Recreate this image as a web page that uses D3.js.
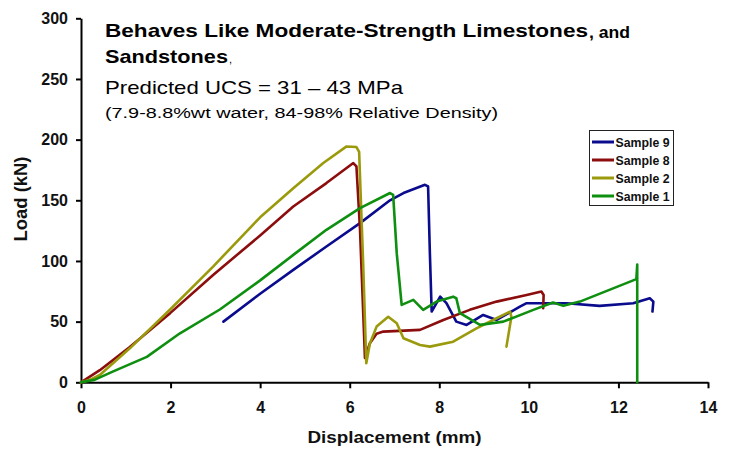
<!DOCTYPE html>
<html>
<head>
<meta charset="utf-8">
<script src="https://cdn.jsdelivr.net/npm/d3@7"></script>
<style>
  html, body { margin: 0; padding: 0; background: #fff; }
  svg { display: block; font-family: "Liberation Sans", Arial, sans-serif; }
</style>
</head>
<body>
<svg id="chart" width="732" height="450"></svg>
<script>
// ---------- data (displacement mm, load kN) ----------
const xTicks = [0, 2, 4, 6, 8, 10, 12, 14];
const yTicks = [0, 50, 100, 150, 200, 250, 300];
const seriesNames = ["Sample 9", "Sample 8", "Sample 2", "Sample 1"];
const seriesColors = ["#0b0b8e", "#8c0d0d", "#9a9a0c", "#0f8f10"];

const sample9 = [[3.18,50],[4.0,73],[4.74,92.7],[5.48,111.9],[6.23,131.2],[6.9,150],[7.2,156],[7.68,162.8],
  [7.75,161.4],[7.79,106.4],[7.83,58.3],[8.02,70.6],[8.16,65.2],[8.38,50],[8.61,47.3],[8.98,55.5],[9.28,51.4],
  [9.8,62.4],[9.95,65.2],[10.84,65.2],[11.58,63],[12.33,65.2],[12.7,69.3],[12.78,66.5],[12.76,58.3]];

const sample8 = [[0,0],[0.42,10],[1.09,29],[1.99,57],[2.95,88.5],[4.0,121],[4.74,144.9],[5.48,164.2],
  [6.08,180.7],[6.15,177.9],[6.23,125.7],[6.34,20],[6.45,32.2],[6.6,40],[6.75,41.8],[7.57,43.2],[8.09,51.4],
  [8.68,59.7],[9.28,66.5],[9.95,72],[10.28,74.8],[10.33,72],[10.32,61]];

const sample2 = [[0,0],[0.2,2],[0.42,6],[1.09,28],[1.99,60],[2.95,95.4],[4.0,136],[4.74,160],[5.41,180.7],
  [5.93,194.4],[6.15,193.9],[6.21,190],[6.3,98],[6.37,15.7],[6.45,32],[6.6,45.9],[6.86,54],[7.05,48.7],
  [7.2,36.3],[7.57,30.8],[7.79,29.4],[8.31,33.5],[8.83,44.5],[9.28,52.8],[9.58,58.3],[9.61,54],[9.5,29.4]];

const sample1 = [[0,0],[0.3,2],[0.72,9],[1.47,21],[2.21,40.4],[3.1,60],[4.0,84],[4.74,105],[5.48,125.7],
  [6.23,143.6],[6.9,156],[6.97,154.5],[7.05,106.4],[7.16,63.8],[7.42,67.9],[7.64,59.7],[7.94,66.5],[8.31,70.6],
  [8.38,69.3],[8.46,57],[8.91,47.3],[9.43,50],[10.1,59.7],[10.54,65.7],[10.77,63],[11.14,66.5],[12.4,85],
  [12.42,97],[12.42,0]];

const seriesData = [sample9, sample8, sample2, sample1];

// ---------- layout ----------
const svg = d3.select("#chart");
const x = d3.scaleLinear().domain([0, 14]).range([81, 708]);
const y = d3.scaleLinear().domain([0, 300]).range([382.3, 18.3]);

// axes
const xAxis = svg.append("g").attr("transform", `translate(0,${y(0)})`)
  .call(d3.axisBottom(x).tickValues(xTicks).tickFormat(d3.format("d")).tickSize(6).tickSizeOuter(0).tickPadding(13));
const yAxis = svg.append("g").attr("transform", `translate(${x(0)},0)`)
  .call(d3.axisLeft(y).tickValues(yTicks).tickFormat(d3.format("d")).tickSize(5).tickSizeOuter(0).tickPadding(8));
[xAxis, yAxis].forEach(g => {
  g.select(".domain").attr("stroke", "#000").attr("stroke-width", 2);
  g.selectAll(".tick line").attr("stroke", "#000").attr("stroke-width", 2);
  g.selectAll(".tick text").attr("fill", "#111").attr("font-size", 16).attr("font-weight", "bold")
    .attr("font-family", "'Liberation Sans', Arial, sans-serif");
});

// axis titles
svg.append("text").attr("x", 394.5).attr("y", 443).attr("text-anchor", "middle")
  .attr("font-size", 17).attr("font-weight", "bold").attr("fill", "#111")
  .attr("textLength", 174).attr("lengthAdjust", "spacingAndGlyphs")
  .text("Displacement (mm)");
svg.append("text").attr("transform", "translate(27,199) rotate(-90)").attr("text-anchor", "middle")
  .attr("font-size", 17.5).attr("font-weight", "bold").attr("fill", "#111")
  .attr("textLength", 85).attr("lengthAdjust", "spacingAndGlyphs")
  .text("Load (kN)");

// series
const line = d3.line().x(d => x(d[0])).y(d => y(d[1]));
seriesData.forEach((data, i) => {
  svg.append("path").datum(data).attr("d", line)
    .attr("fill", "none").attr("stroke", seriesColors[i]).attr("stroke-width", 2.6)
    .attr("stroke-linejoin", "round").attr("stroke-linecap", "round");
});

// annotation text
const ann = svg.append("g").attr("fill", "#000");
ann.append("text").attr("x", 105).attr("y", 37).attr("font-size", 19).attr("font-weight", "bold")
  .attr("textLength", 483).attr("lengthAdjust", "spacingAndGlyphs")
  .text("Behaves Like Moderate-Strength Limestones");
ann.append("text").attr("x", 589).attr("y", 38).attr("font-size", 16).attr("font-weight", "bold")
  .attr("textLength", 41).attr("lengthAdjust", "spacingAndGlyphs")
  .text(", and");
ann.append("text").attr("x", 105).attr("y", 63).attr("font-size", 19).attr("font-weight", "bold")
  .attr("textLength", 123).attr("lengthAdjust", "spacingAndGlyphs")
  .text("Sandstones");
ann.append("text").attr("x", 229).attr("y", 63).attr("font-size", 11).text(",");
ann.append("text").attr("x", 105).attr("y", 94).attr("font-size", 19)
  .attr("textLength", 298).attr("lengthAdjust", "spacingAndGlyphs")
  .text("Predicted UCS = 31 \u2013 43 MPa");
ann.append("text").attr("x", 105).attr("y", 118).attr("font-size", 15.5)
  .attr("textLength", 393).attr("lengthAdjust", "spacingAndGlyphs")
  .text("(7.9-8.8%wt water, 84-98% Relative Density)");

// legend
const lg = svg.append("g");
lg.append("rect").attr("x", 589.5).attr("y", 130.5).attr("width", 84).attr("height", 75)
  .attr("fill", "#fff").attr("stroke", "#222").attr("stroke-width", 1);
const rowY = [142, 160, 178, 196];
seriesNames.forEach((name, i) => {
  lg.append("line").attr("x1", 592).attr("x2", 614).attr("y1", rowY[i]).attr("y2", rowY[i])
    .attr("stroke", seriesColors[i]).attr("stroke-width", 3);
  lg.append("text").attr("x", 615.5).attr("y", rowY[i]).attr("dy", "0.36em")
    .attr("font-size", 12.5).attr("font-weight", "bold").attr("fill", "#111")
    .attr("textLength", 54).attr("lengthAdjust", "spacingAndGlyphs")
    .text(name);
});
</script>
</body>
</html>
